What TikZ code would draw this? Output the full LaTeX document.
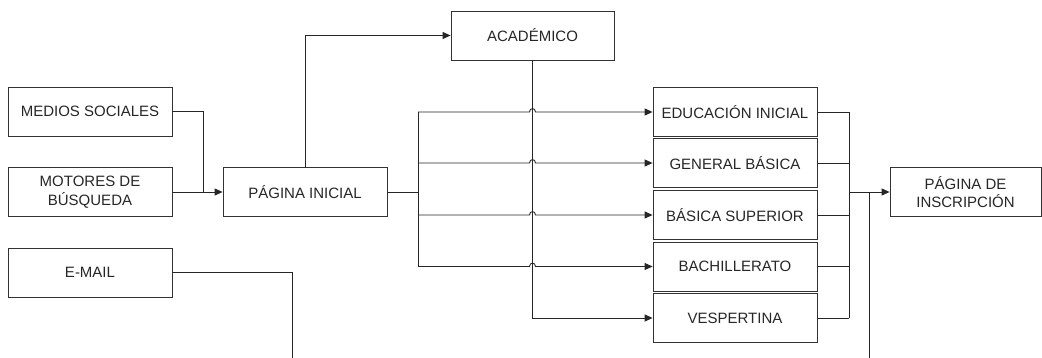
\documentclass[tikz,border=0pt]{standalone}
\usepackage{fontspec}
\setmainfont{Liberation Sans}
\usetikzlibrary{arrows.meta}
\begin{document}
\begin{tikzpicture}[x=1pt,y=-1pt,
  box/.style={draw=black!80,line width=0.8pt,rectangle,minimum width=164pt,minimum height=49pt,
    align=center,inner sep=0pt,font=\fontsize{15}{18.5}\selectfont,text=black!85},
  ln/.style={draw=black!85,line width=0.9pt},
  arr/.style={ln,-{Triangle[length=8pt,width=7pt]}}]
\useasboundingbox (0,0) rectangle (1042,358);
% left column
\node[box] (ms) at (90,111.5) {MEDIOS SOCIALES};
\node[box] (mb) at (90,192) {MOTORES DE\\BÚSQUEDA};
\node[box] (em) at (90,272.5) {E-MAIL};
\node[box] (pi) at (305,192) {PÁGINA INICIAL};
\node[box,minimum width=163pt] (ac) at (532.5,35.5) {ACADÉMICO};
% right column
\node[box] (ei) at (735,112) {EDUCACIÓN INICIAL};
\node[box] (gb) at (735,163) {GENERAL BÁSICA};
\node[box] (bs) at (735,215) {BÁSICA SUPERIOR};
\node[box] (ba) at (735,266.5) {BACHILLERATO};
\node[box] (ve) at (735,318) {VESPERTINA};
\node[box,minimum width=151pt] (ins) at (965.5,192) {PÁGINA DE\\INSCRIPCIÓN};
% coordinates
\coordinate (j1) at (203,192);
\coordinate (emend) at (292,358);
\coordinate (sp) at (418,192);
\coordinate (sptop) at (418,112);
\coordinate (spbot) at (418,266.5);
\coordinate (mg) at (849,192);
\coordinate (mgtop) at (849,112);
\coordinate (mgbot) at (849,318);
\coordinate (tailtop) at (869,192);
\coordinate (tailbot) at (869,358);
% connectors left
\draw[ln] (ms.east) -| (j1);
\draw[arr] (mb.east) -- (pi.west);
\draw[ln] (em.east) -| (emend);
\draw[arr] (pi.north) |- (ac.west);
\draw[arr] (ac.south) |- (ve.west);
% split
\draw[ln] (pi.east) -- (sp);
\draw[ln] (sptop) -- (spbot);
\foreach \n/\y in {ei/112,gb/163,bs/215,ba/266.5}{
  \draw[arr] (418,\y) -- (529.5,\y) .. controls (529.5,\y-4.5) and (535.5,\y-4.5) .. (535.5,\y) -- (\n.west);
}
% merge
\foreach \n in {ei,gb,bs,ba,ve}{
  \draw[ln] (\n.east) -- (\n.east -| mg);
}
\draw[ln] (mgtop) -- (mgbot);
\draw[arr] (mg) -- (ins.west);
\draw[ln] (tailtop) -- (tailbot);
\end{tikzpicture}
\end{document}
